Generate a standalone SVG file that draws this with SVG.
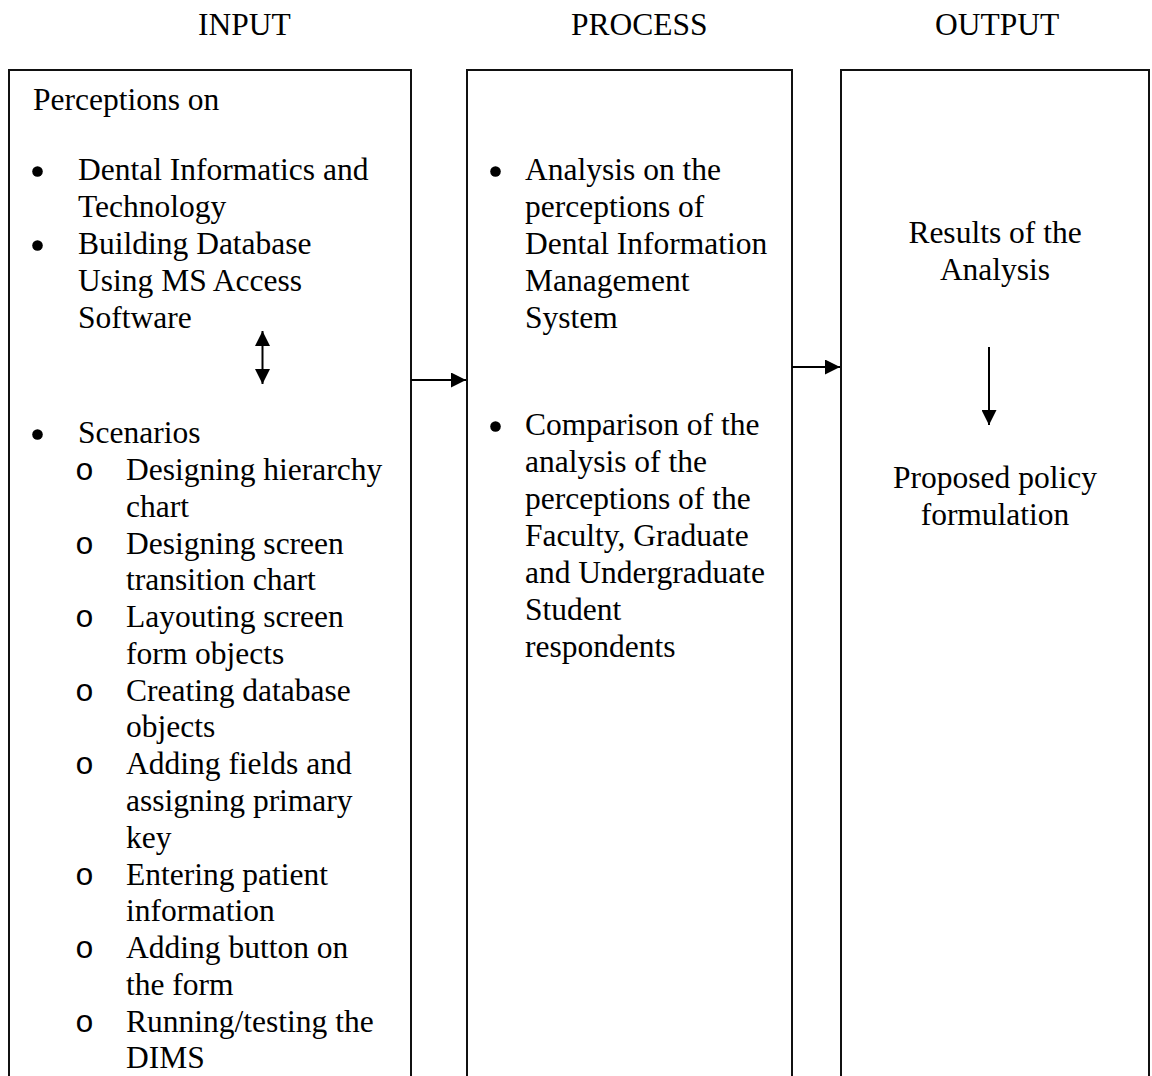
<svg xmlns="http://www.w3.org/2000/svg" width="1152" height="1076" viewBox="0 0 1152 1076">
<style>
text{font-family:"Liberation Serif","Times New Roman",serif;font-size:31.5px;fill:#000}
.box{fill:none;stroke:#111;stroke-width:2}
.ln{stroke:#000;stroke-width:2;fill:none}
.dot{fill:#000}
.sub{font-family:"Liberation Mono","Courier New",monospace;text-anchor:middle}
.c{text-anchor:middle}
</style>
<defs>
<marker id="ah" markerWidth="15" markerHeight="15" refX="15" refY="7.5" orient="auto-start-reverse" markerUnits="userSpaceOnUse" viewBox="0 0 15 15">
<path d="M0,0 L15,7.5 L0,15 Z" fill="#000"/>
</marker>
</defs>
<rect width="1152" height="1076" fill="#fff"/>
<g id="headers">
<text x="198" y="35">INPUT</text>
<text x="571" y="35">PROCESS</text>
<text x="935" y="35">OUTPUT</text>
</g>
<g id="input">
<path class="box" d="M9,1080 V70 H411 V1080"/>
<text x="33" y="110">Perceptions on</text>
<circle class="dot" cx="37.5" cy="171.5" r="5.3"/>
<text x="78" y="180">Dental Informatics and</text>
<text x="78" y="217">Technology</text>
<circle class="dot" cx="37.5" cy="245.5" r="5.3"/>
<text x="78" y="254">Building Database</text>
<text x="78" y="291">Using MS Access</text>
<text x="78" y="328">Software</text>
<circle class="dot" cx="37.5" cy="434.5" r="5.3"/>
<text x="78" y="443">Scenarios</text>
<text class="sub" x="84.5" y="480">o</text>
<text x="126" y="480">Designing hierarchy</text>
<text x="126" y="517">chart</text>
<text class="sub" x="84.5" y="553.5">o</text>
<text x="126" y="553.5">Designing screen</text>
<text x="126" y="590">transition chart</text>
<text class="sub" x="84.5" y="627">o</text>
<text x="126" y="627">Layouting screen</text>
<text x="126" y="664">form objects</text>
<text class="sub" x="84.5" y="700.5">o</text>
<text x="126" y="700.5">Creating database</text>
<text x="126" y="737">objects</text>
<text class="sub" x="84.5" y="774">o</text>
<text x="126" y="774">Adding fields and</text>
<text x="126" y="811">assigning primary</text>
<text x="126" y="847.5">key</text>
<text class="sub" x="84.5" y="884.5">o</text>
<text x="126" y="884.5">Entering patient</text>
<text x="126" y="921">information</text>
<text class="sub" x="84.5" y="958">o</text>
<text x="126" y="958">Adding button on</text>
<text x="126" y="995">the form</text>
<text class="sub" x="84.5" y="1032">o</text>
<text x="126" y="1032">Running/testing the</text>
<text x="126" y="1068">DIMS</text>
</g>
<g id="process">
<path class="box" d="M467,1080 V70 H792 V1080"/>
<circle class="dot" cx="495.5" cy="171.5" r="5.3"/>
<text x="525" y="180">Analysis on the</text>
<text x="525" y="217">perceptions of</text>
<text x="525" y="254">Dental Information</text>
<text x="525" y="291">Management</text>
<text x="525" y="328">System</text>
<circle class="dot" cx="495.5" cy="426.5" r="5.3"/>
<text x="525" y="435">Comparison of the</text>
<text x="525" y="472">analysis of the</text>
<text x="525" y="509">perceptions of the</text>
<text x="525" y="546">Faculty, Graduate</text>
<text x="525" y="583">and Undergraduate</text>
<text x="525" y="620">Student</text>
<text x="525" y="657">respondents</text>
</g>
<g id="output">
<path class="box" d="M841,1080 V70 H1149 V1080"/>
<text class="c" x="995" y="243">Results of the</text>
<text class="c" x="995" y="280">Analysis</text>
<text class="c" x="995" y="488">Proposed policy</text>
<text class="c" x="995" y="525">formulation</text>
</g>
<g id="connectors">
<line class="ln" x1="411" y1="380" x2="466" y2="380" marker-end="url(#ah)"/>
<line class="ln" x1="792" y1="367" x2="840" y2="367" marker-end="url(#ah)"/>
<line class="ln" x1="262.5" y1="331" x2="262.5" y2="384" marker-start="url(#ah)" marker-end="url(#ah)"/>
<line class="ln" x1="989" y1="347" x2="989" y2="425" marker-end="url(#ah)"/>
</g>
</svg>
